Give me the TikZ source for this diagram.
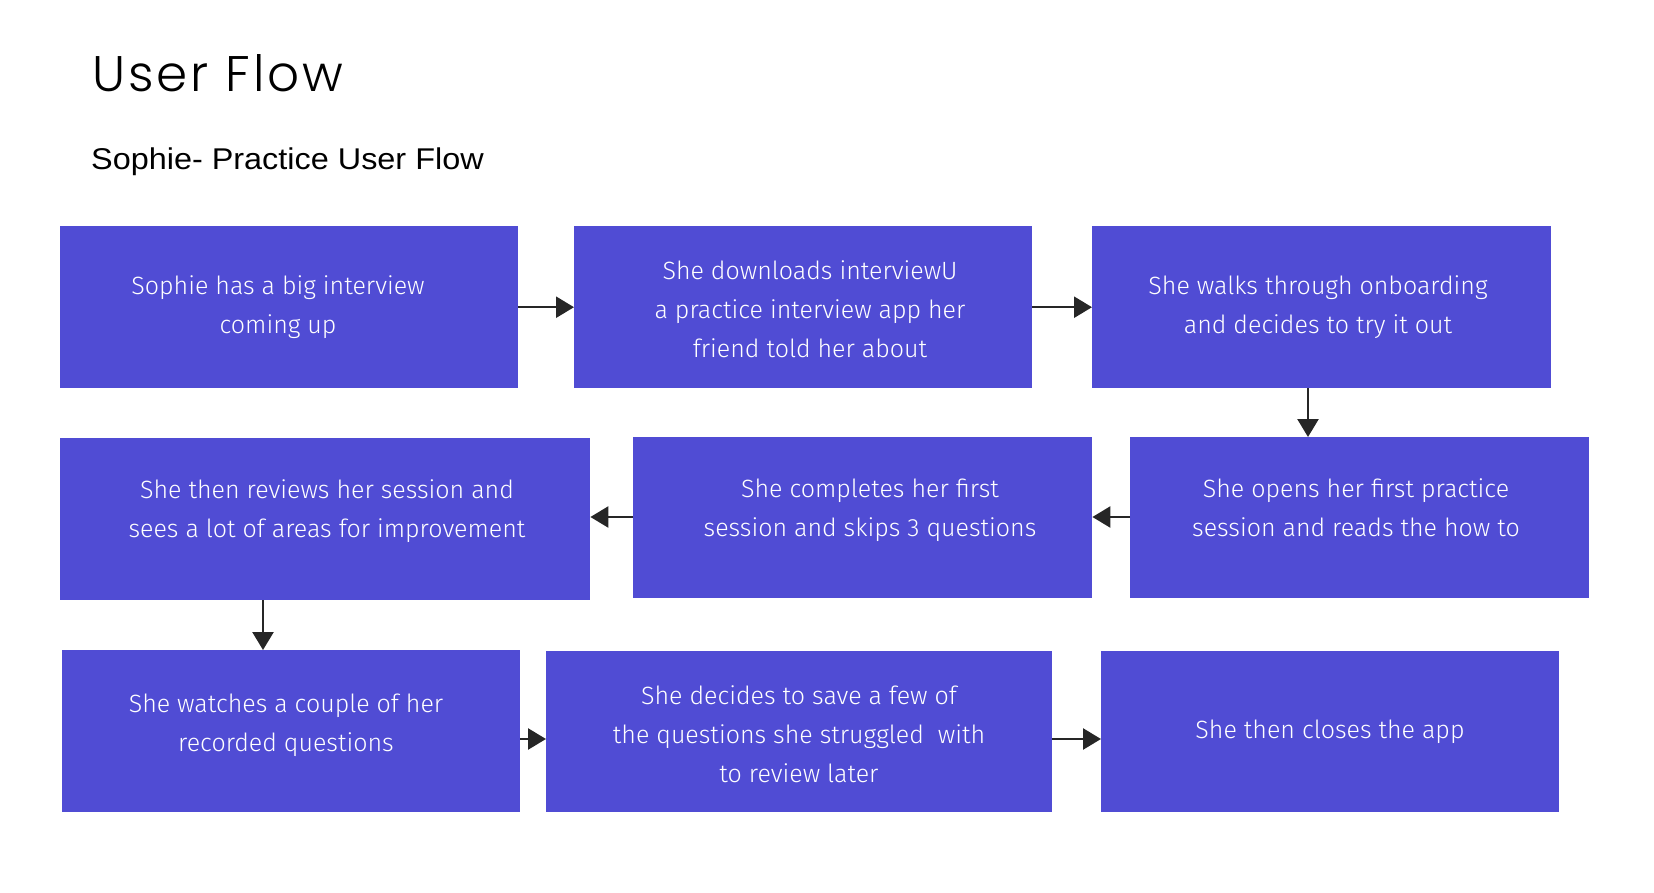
\documentclass[tikz,border=0pt]{standalone}
\usepackage{fontspec}
\usetikzlibrary{arrows.meta}
\newfontfamily\titlefont{Poppins Light}[LetterSpace=6]
\newfontfamily\subfont{Liberation Sans}[FakeStretch=1.08]
\newfontfamily\boxfont{Fira Sans Light}
\definecolor{boxblue}{RGB}{80,76,212}
\definecolor{arrowgray}{RGB}{38,38,38}
\tikzset{
  stepbox/.style={fill=boxblue, draw=none, inner sep=0pt, anchor=north west},
  boxtext/.style={text=white, align=center, font=\boxfont\fontsize{25}{39}\selectfont, inner sep=0pt},
  arr/.style={draw=arrowgray, line width=2.5pt, -{Triangle[length=18pt,width=21pt]}},
}
\begin{document}
\begin{tikzpicture}[x=1pt,y=-1pt]
\useasboundingbox[fill=white] (0,0) rectangle (1654,893);
\node[anchor=base west, inner sep=0pt, font=\titlefont\fontsize{50}{60}\selectfont] (title) at (92,92) {User Flow};
\node[anchor=base west, inner sep=0pt, font=\subfont\fontsize{30}{36}\selectfont] (subtitle) at (91,170) {Sophie- Practice User Flow};
% boxes
\node[stepbox, minimum width=458pt, minimum height=162pt] (b1) at (60,226) {};
\node[stepbox, minimum width=458pt, minimum height=162pt] (b2) at (574,226) {};
\node[stepbox, minimum width=459pt, minimum height=162pt] (b3) at (1092,226) {};
\node[stepbox, minimum width=530pt, minimum height=162pt] (b4) at (60,438) {};
\node[stepbox, minimum width=459pt, minimum height=161pt] (b5) at (633,437) {};
\node[stepbox, minimum width=459pt, minimum height=161pt] (b6) at (1130,437) {};
\node[stepbox, minimum width=458pt, minimum height=162pt] (b7) at (62,650) {};
\node[stepbox, minimum width=506pt, minimum height=161pt] (b8) at (546,651) {};
\node[stepbox, minimum width=458pt, minimum height=161pt] (b9) at (1101,651) {};
% texts
\node[boxtext] (t1) at (278,307) {Sophie has a big interview\\coming up};
\node[boxtext] (t2) at (810,309) {She downloads interviewU\\a practice interview app her\\friend told her about};
\node[boxtext] (t3) at (1318,307) {She walks through onboarding\\and decides to try it out};
\node[boxtext] (t4) at (327,511) {She then reviews her session and\\sees a lot of areas for improvement};
\node[boxtext] (t5) at (870,510) {She completes her first\\session and skips 3 questions};
\node[boxtext] (t6) at (1356,508) {She opens her first practice\\session and reads the how to};
\node[boxtext] (t7) at (286,725) {She watches a couple of her\\recorded questions};
\node[boxtext] (t8) at (799,734) {She decides to save a few of\\the questions she struggled\ \ with\\to review later};
\node[boxtext] (t9) at (1330,732) {She then closes the app};
% arrows
\draw[arr] (b1.east) -- (b2.west);
\draw[arr] (b2.east) -- (b3.west);
\draw[arr] (b3.south -| 1308,0) -- (b6.north -| 1308,0);
\draw[arr] (b6.west |- 0,517) -- (b5.east |- 0,517);
\draw[arr] (b5.west |- 0,517) -- (b4.east |- 0,517);
\draw[arr] (b4.south -| 263,0) -- (b7.north -| 263,0);
\draw[arr] (b7.east |- 0,739) -- (b8.west |- 0,739);
\draw[arr] (b8.east |- 0,739) -- (b9.west |- 0,739);
\end{tikzpicture}
\end{document}
